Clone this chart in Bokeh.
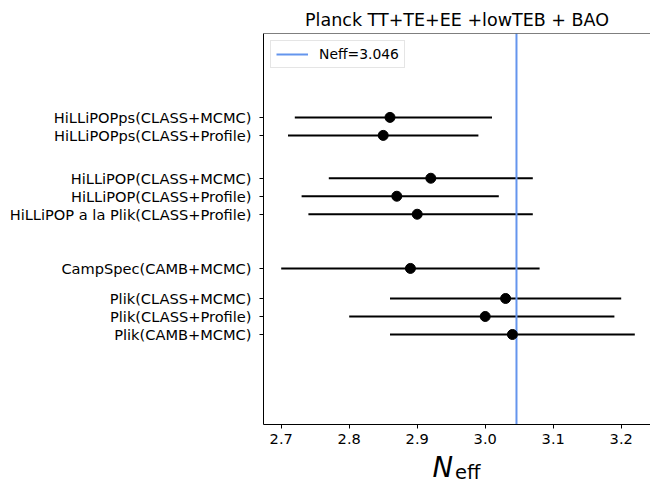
from bokeh.plotting import figure
from bokeh.layouts import column
from bokeh.models import FixedTicker, Span, Range1d, PrintfTickFormatter
from bokeh.core.properties import value
from bokeh.embed import file_html
from bokeh.resources import INLINE

labels = ["HiLLiPOPps(CLASS+MCMC)", "HiLLiPOPps(CLASS+Profile)",
          "HiLLiPOP(CLASS+MCMC)", "HiLLiPOP(CLASS+Profile)",
          "HiLLiPOP a la Plik(CLASS+Profile)", "CampSpec(CAMB+MCMC)",
          "Plik(CLASS+MCMC)", "Plik(CLASS+Profile)", "Plik(CAMB+MCMC)"]
y_pos = [17.06, 16.06, 13.68, 12.68, 11.68, 8.67, 7.0, 6.0, 5.0]
neff = [2.86, 2.85, 2.92, 2.87, 2.90, 2.89, 3.03, 3.00, 3.04]
neff_lo = [2.72, 2.71, 2.77, 2.73, 2.74, 2.70, 2.86, 2.80, 2.86]
neff_hi = [3.01, 2.99, 3.07, 3.02, 3.07, 3.08, 3.20, 3.19, 3.22]
neff_ref = 3.046
x_ticks = [2.7, 2.8, 2.9, 3.0, 3.1, 3.2]

X0, X1 = 2.67397, 3.24309
Y0, Y1 = 0.0, 21.72
FONT = "DejaVu Sans"
xr = Range1d(X0, X1)

p = figure(width=650, height=450, output_backend="svg", toolbar_location=None,
           x_range=xr, y_range=Range1d(Y0, Y1),
           min_border_left=263, min_border_right=0, min_border_top=33,
           min_border_bottom=26)
p.outline_line_color = None
p.grid.visible = False
p.background_fill_color = "white"
p.border_fill_color = "white"

p.title.text = "Planck TT+TE+EE +lowTEB + BAO"
p.title.align = "center"
p.title.text_font = FONT
p.title.text_font_size = "17.5px"
p.title.text_font_style = "normal"
p.title.text_color = "black"
p.title.standoff = 8

p.segment(x0=neff_lo, y0=y_pos, x1=neff_hi, y1=y_pos, line_color="black", line_width=2)
p.line(x=[neff_ref, neff_ref], y=[Y0, Y1], line_color="#6495ED", line_width=2,
       legend_label="Neff=3.046")
p.scatter(x=neff, y=y_pos, size=10, fill_color="black", line_color="black")

# top spine
p.add_layout(Span(location=Y1, dimension="width", line_color="black", line_width=1))

for ax in (p.xaxis, p.yaxis):
    ax.axis_line_color = "black"
    ax.axis_line_width = 1
    ax.major_tick_line_color = "black"
    ax.major_tick_out = 4
    ax.major_tick_in = 0
    ax.minor_tick_line_color = None
    ax.major_label_text_font = FONT
    ax.major_label_text_font_size = "14.6px"
    ax.major_label_text_color = "black"

p.xaxis.ticker = FixedTicker(ticks=x_ticks)
p.xaxis.formatter = PrintfTickFormatter(format="%.1f")
p.xaxis.major_label_standoff = 5
p.yaxis.ticker = FixedTicker(ticks=y_pos)
p.yaxis.major_label_overrides = {y: lab for y, lab in zip(y_pos, labels)}
p.yaxis.major_label_standoff = 8

leg = p.legend[0]
leg.location = "top_left"
leg.margin = 7
leg.padding = 5
leg.spacing = 0
leg.glyph_width = 32
leg.glyph_height = 14
leg.label_height = 14
leg.label_standoff = 11
leg.label_text_font = FONT
leg.label_text_font_size = "13.9px"
leg.label_text_color = "black"
leg.border_line_color = "#cccccc"
leg.border_line_width = 1
leg.background_fill_alpha = 0.8

# x-axis label N_eff drawn in a strip below the plot
q = figure(width=650, height=34, output_backend="svg", toolbar_location=None,
           x_range=xr, y_range=Range1d(0, 34), x_axis_type=None, y_axis_type=None,
           min_border_left=263, min_border_right=0, min_border_top=0,
           min_border_bottom=0)
q.title_location = None
q.outline_line_color = None
q.grid.visible = False
q.text(x=[2.9225], y=[18.0], text=["N"], text_font=value(FONT), text_font_style="italic",
       text_font_size="27.5px", text_baseline="alphabetic", text_align="left",
       text_color="black")
q.text(x=[2.95559], y=[12.0], text=["eff"], text_font=value(FONT),
       text_font_size="19.5px", text_baseline="alphabetic", text_align="left",
       text_color="black")

layout = column(p, q, spacing=0)
open("out.html", "w").write(file_html(layout, INLINE))
